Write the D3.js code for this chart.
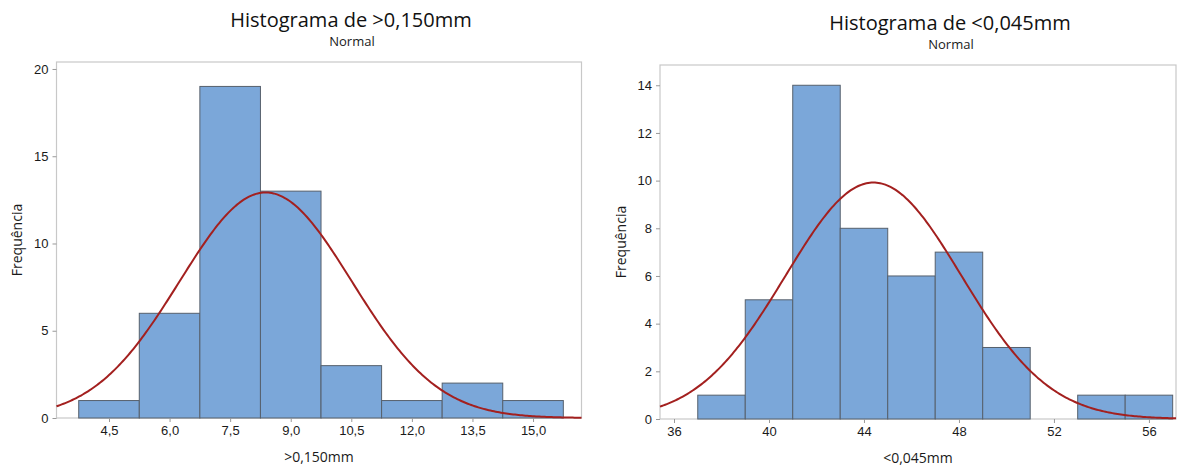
<!DOCTYPE html>
<html>
<head>
<meta charset="utf-8">
<script src="https://cdn.jsdelivr.net/npm/d3@7"></script>
<style>
  body { margin: 0; background: #fff; }
  svg { display: block; font-family: "Open Sans", "Noto Sans", sans-serif; }
  .tick text { fill: #1a1a1a; font-size: 13px; }
  .tick line { stroke: #999; }
  .domain { display: none; }
</style>
</head>
<body>
<div class="graph"></div>
<script>
// Left histogram (>0,150mm)
var leftCenters = [4.5, 6.0, 7.5, 9.0, 10.5, 12.0, 13.5, 15.0];
var leftCounts = [1, 6, 19, 13, 3, 1, 2, 1];
var leftBinWidth = 1.5;
var leftMean = 8.38, leftSd = 2.13;
var leftXTicks = [4.5, 6.0, 7.5, 9.0, 10.5, 12.0, 13.5, 15.0];
var leftYTicks = [0, 5, 10, 15, 20];

// Right histogram (<0,045mm)
var rightCenters = [38, 40, 42, 44, 46, 48, 50, 52, 54, 56];
var rightCounts = [1, 5, 14, 8, 6, 7, 3, 0, 1, 1];
var rightBinWidth = 2;
var rightMean = 44.4, rightSd = 3.7;
var rightXTicks = [36, 40, 44, 48, 52, 56];
var rightYTicks = [0, 2, 4, 6, 8, 10, 12, 14];

var svg = d3.select(".graph").append("svg")
    .attr("width", 1186)
    .attr("height", 467);

var comma = function(d) { return d3.format(".1f")(d).replace(".", ","); };

function panel(cfg) {
  var x = d3.scaleLinear().domain(cfg.xDomain).range([cfg.left, cfg.right]);
  var y = d3.scaleLinear().domain(cfg.yDomain).range([cfg.bottom, cfg.top]);
  var g = svg.append("g");

  // frame
  g.append("rect")
    .attr("x", cfg.left).attr("y", cfg.top)
    .attr("width", cfg.right - cfg.left).attr("height", cfg.bottom - cfg.top)
    .attr("fill", "none").attr("stroke", "#c8c8c8").attr("stroke-width", 1.2);

  var bins = cfg.centers.map(function(c, i) { return {c: c, n: cfg.counts[i]}; })
    .filter(function(d) { return d.n > 0; });

  g.selectAll(".bar")
    .data(bins)
    .enter().append("rect")
    .attr("class", "bar")
    .attr("x", function(d) { return x(d.c - cfg.bw / 2); })
    .attr("width", function(d) { return x(d.c + cfg.bw / 2) - x(d.c - cfg.bw / 2); })
    .attr("y", function(d) { return y(d.n); })
    .attr("height", function(d) { return y(0) - y(d.n); })
    .attr("fill", "#7ba7d9")
    .attr("stroke", "#56606c")
    .attr("stroke-width", 1);

  // fitted normal curve
  var n = d3.sum(cfg.counts);
  var pts = d3.range(0, 301).map(function(i) {
    var v = cfg.xDomain[0] + (cfg.xDomain[1] - cfg.xDomain[0]) * i / 300;
    var z = (v - cfg.mean) / cfg.sd;
    return [v, n * cfg.bw / (cfg.sd * Math.sqrt(2 * Math.PI)) * Math.exp(-z * z / 2)];
  });
  g.append("path")
    .datum(pts)
    .attr("fill", "none")
    .attr("stroke", "#a3201f")
    .attr("stroke-width", 2)
    .attr("d", d3.line().x(function(d) { return x(d[0]); }).y(function(d) { return y(d[1]); }));

  // axes
  g.append("g")
    .attr("transform", "translate(0," + cfg.bottom + ")")
    .call(d3.axisBottom(x).tickValues(cfg.xTicks).tickFormat(cfg.xFmt).tickSize(4).tickPadding(4));
  g.append("g")
    .attr("transform", "translate(" + cfg.left + ",0)")
    .call(d3.axisLeft(y).tickValues(cfg.yTicks).tickFormat(d3.format("d")).tickSize(4).tickPadding(4));

  // titles (centred a little right of the plot area, as in the original)
  var cx = (cfg.left + cfg.right) / 2;
  svg.append("text")
    .attr("x", cx + 32).attr("y", cfg.titleY)
    .attr("text-anchor", "middle")
    .style("font-size", "20px").style("font-weight", 500).attr("fill", "#111")
    .text(cfg.title);
  svg.append("text")
    .attr("x", cx + 33).attr("y", cfg.titleY + 19)
    .attr("text-anchor", "middle")
    .style("font-size", "13px").style("font-weight", 500).attr("fill", "#1a1a1a")
    .text("Normal");
  svg.append("text")
    .attr("x", cx).attr("y", cfg.bottom + 44)
    .attr("text-anchor", "middle")
    .style("font-size", "14px").attr("fill", "#1a1a1a")
    .text(cfg.xLabel);
  svg.append("text")
    .attr("transform", "translate(" + cfg.yLabelX + "," + (cfg.top + cfg.bottom) / 2 + ") rotate(-90)")
    .attr("text-anchor", "middle")
    .style("font-size", "14px").attr("fill", "#1a1a1a")
    .text("Frequência");
}

panel({
  left: 56.5, right: 581.5, top: 62, bottom: 418,
  xDomain: [3.2, 16.2], yDomain: [0, 20.4],
  centers: leftCenters, counts: leftCounts, bw: leftBinWidth,
  mean: leftMean, sd: leftSd,
  xTicks: leftXTicks, yTicks: leftYTicks, xFmt: comma,
  title: "Histograma de >0,150mm", xLabel: ">0,150mm",
  titleY: 27, yLabelX: 22
});

panel({
  left: 660, right: 1176, top: 65, bottom: 419,
  xDomain: [35.41, 57.14], yDomain: [0, 14.85],
  centers: rightCenters, counts: rightCounts, bw: rightBinWidth,
  mean: rightMean, sd: rightSd,
  xTicks: rightXTicks, yTicks: rightYTicks, xFmt: d3.format("d"),
  title: "Histograma de <0,045mm", xLabel: "<0,045mm",
  titleY: 30, yLabelX: 626
});
</script>
</body>
</html>
